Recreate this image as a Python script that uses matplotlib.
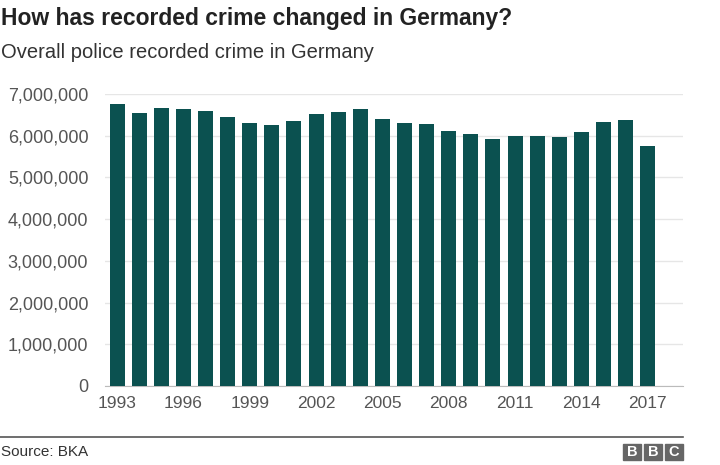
import matplotlib
matplotlib.use("Agg")
import matplotlib.pyplot as plt
from matplotlib.patches import Rectangle
from matplotlib.lines import Line2D
from matplotlib.ticker import FuncFormatter

plt.rcParams["font.family"] = ["Liberation Sans", "DejaVu Sans"]

YEARS = list(range(1993, 2018))
CRIMES = [6750000, 6540000, 6670000, 6650000, 6590000, 6460000, 6300000,
          6260000, 6360000, 6510000, 6570000, 6630000, 6390000, 6300000,
          6280000, 6110000, 6050000, 5930000, 5990000, 6000000, 5960000,
          6080000, 6330000, 6370000, 5760000]
TICK_YEARS = [1993, 1996, 1999, 2002, 2005, 2008, 2011, 2014, 2017]

BAR = "#0b5150"
GREY = "#555555"

fig = plt.figure(figsize=(7.2, 4.65), dpi=100)
ax = fig.add_axes([105 / 720, 1 - 386 / 465, (683 - 105) / 720, (386 - 94) / 465])

ax.bar(YEARS, CRIMES, width=0.68, color=BAR, zorder=3)
ax.set_xlim(1993 - 0.55, 2017 + 1.6)
ax.set_ylim(0, 7000000)
ax.set_yticks(range(0, 7000001, 1000000))
ax.yaxis.set_major_formatter(FuncFormatter(lambda v, p: f"{int(v):,}"))
ax.set_xticks(TICK_YEARS)
ax.grid(axis="y", color="#e6e6e6", lw=1, zorder=0)
for s in ["top", "right", "left"]:
    ax.spines[s].set_visible(False)
ax.spines["bottom"].set_color("#bbbbbb")
ax.tick_params(axis="y", length=0, pad=12, labelsize=13, labelcolor=GREY)
ax.tick_params(axis="x", length=0, pad=7, labelsize=12.5, labelcolor=GREY)

fig.text(0.002, 1 - 18 / 465, "How has recorded crime changed in Germany?",
         fontsize=16.5, fontweight="bold", color="#222222", va="center")
fig.text(0.002, 1 - 53 / 465, "Overall police recorded crime in Germany",
         fontsize=14.5, color="#333333", va="center")

fig.add_artist(Line2D([0, 683 / 720], [1 - 437 / 465] * 2, color="#555555", lw=1.2))
fig.text(0.002, 1 - 452 / 465, "Source: BKA", fontsize=11, color="#333333", va="center")

for i, letter in enumerate("BBC"):
    x0 = (623 + i * 21) / 720
    fig.add_artist(Rectangle((x0, 1 - 460 / 465), 18 / 720, 16 / 465,
                             transform=fig.transFigure, color="#666666"))
    fig.text(x0 + 9 / 720, 1 - 452 / 465, letter, fontsize=10.5, fontweight="bold",
             color="white", ha="center", va="center")

fig.savefig("out.png", dpi=100)
